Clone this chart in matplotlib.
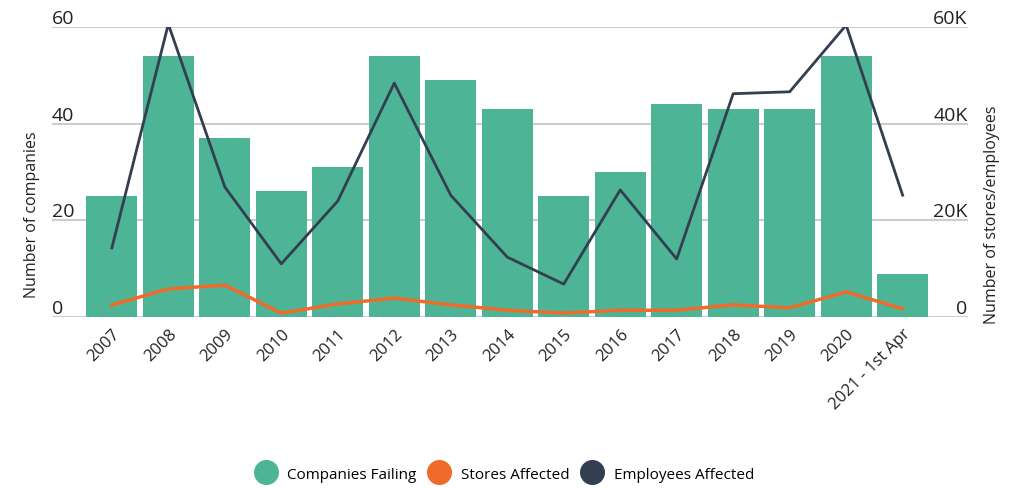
import matplotlib
matplotlib.use("Agg")
import matplotlib.pyplot as plt
from matplotlib.lines import Line2D

plt.rcParams['font.family'] = ['Open Sans', 'DejaVu Sans']

years = ['2007', '2008', '2009', '2010', '2011', '2012', '2013', '2014', '2015',
         '2016', '2017', '2018', '2019', '2020', '2021 - 1st Apr']
companies = [25, 54, 37, 26, 31, 54, 49, 43, 25, 30, 44, 43, 43, 54, 9]
stores = [2500, 5800, 6600, 800, 2700, 3900, 2500, 1400, 800, 1400, 1400, 2500, 1900, 5200, 1700]
employees = [14300, 60600, 26900, 11000, 24000, 48400, 25200, 12400, 6800, 26300, 12000,
             46200, 46600, 60400, 25200]

green = '#4db596'
orange = '#f06a2a'
navy = '#333e50'
grid = '#cccccc'

fig = plt.figure(figsize=(10.25, 4.89), dpi=100)
ax = fig.add_axes([0.0507, 0.3497, 0.8933, 0.593])
x = list(range(len(years)))

ax.bar(x, companies, width=0.9, color=green, zorder=2)
ax.set_ylim(0, 60)
ax.set_xlim(-1.06, 15.15)
ax.set_yticks([0, 20, 40, 60])
ax.yaxis.grid(True, color=grid, linewidth=1.5, zorder=0)
ax.set_yticklabels([])
ax.tick_params(axis='y', length=0)
for s in ax.spines.values():
    s.set_visible(False)

ax2 = ax.twinx()
ax2.plot(x, stores, color=orange, linewidth=2.5, zorder=3)
ax2.plot(x, employees, color=navy, linewidth=2, zorder=4)
ax2.set_ylim(0, 60000)
ax2.set_yticks([])
for s in ax2.spines.values():
    s.set_visible(False)

# tick labels sitting above gridlines
for v in [0, 20, 40, 60]:
    ax.text(0.0, v, str(v), transform=ax.get_yaxis_transform(), ha='left', va='bottom',
            fontsize=14, color='#222222')
    ax.text(1.0, v, '0' if v == 0 else f'{v}K', transform=ax.get_yaxis_transform(),
            ha='right', va='bottom', fontsize=14, color='#222222')

ax.set_xticks(x)
ax.set_xticklabels(years, rotation=45, ha='right', rotation_mode='anchor', fontsize=12,
                   color='#222222')
ax.tick_params(axis='x', length=0, pad=6)

fig.text(0.031, 0.56, 'Number of companies', rotation=90, ha='center', va='center',
         fontsize=11.5, color='#222222')
fig.text(0.968, 0.56, 'Number of stores/employees', rotation=90, ha='center', va='center',
         fontsize=11.5, color='#222222')

handles = [Line2D([], [], marker='o', linestyle='none', markersize=17, color=c)
           for c in (green, orange, navy)]
fig.legend(handles, ['Companies Failing', 'Stores Affected', 'Employees Affected'],
           loc='center', bbox_to_anchor=(0.49, 0.028), ncol=3, frameon=False,
           fontsize=11, handletextpad=0.4, columnspacing=0.5)

fig.savefig('out.png', dpi=100)
